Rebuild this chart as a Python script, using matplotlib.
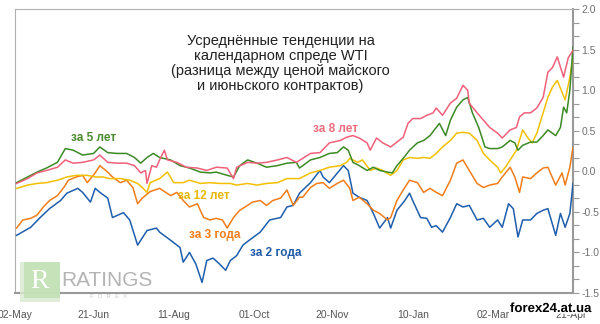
import matplotlib
matplotlib.use("Agg")
import matplotlib.pyplot as plt
import matplotlib.patheffects as pe
from matplotlib.patches import Rectangle
from matplotlib.ticker import MultipleLocator, FixedLocator, FuncFormatter

plt.rcParams['axes.unicode_minus'] = False
plt.rcParams['font.family'] = ['Liberation Sans', 'DejaVu Sans']

# ---- axis ticks (days since 02-May) ----
tick_days = [0, 50, 101, 152, 202, 253, 304, 354]
tick_labels = ['02-May', '21-Jun', '11-Aug', '01-Oct', '20-Nov', '10-Jan', '02-Mar', '21-Apr']

# ---- series: "за 2 года" (blue) ----
days_2y = [1, 10, 16, 22, 29, 33, 40, 43, 48, 51, 54, 59, 62, 69, 73, 78, 84, 90, 92, 99,
           105, 107, 111, 115, 119, 122, 126, 130, 134, 137, 141, 145, 149, 156, 162, 169, 173, 177, 181, 188,
           194, 196, 200, 209, 212, 215, 219, 224, 228, 232, 237, 239, 243, 248, 251, 253, 258, 262, 265, 268,
           272, 277, 281, 285, 289, 294, 298, 302, 307, 310, 314, 317, 320, 323, 328, 332, 336, 339, 344, 347,
           350, 353, 355]
vals_2y = [-0.79, -0.69, -0.57, -0.46, -0.36, -0.27, -0.21, -0.26, -0.38, -0.21, -0.26, -0.33, -0.57, -0.51, -0.60, -0.91, -0.73, -0.70, -0.75, -0.85,
           -0.94, -1.12, -1.00, -1.14, -1.37, -1.10, -1.07, -1.14, -1.22, -1.10, -1.04, -0.91, -0.85, -0.75, -0.60, -0.57, -0.44, -0.42, -0.27, -0.14,
           0.01, -0.07, -0.14, 0.07, 0.01, -0.27, -0.32, -0.36, -0.52, -0.70, -0.57, -0.70, -0.48, -0.36, -0.27, -0.36, -0.57, -0.58, -0.69, -0.67,
           -0.75, -0.57, -0.40, -0.44, -0.42, -0.60, -0.58, -0.69, -0.60, -0.69, -0.40, -0.46, -0.81, -0.60, -0.60, -0.52, -0.48, -0.46, -0.79, -0.52,
           -0.69, -0.52, -0.15]

# ---- series: "за 3 года" (orange) ----
days_3y = [1, 5, 10, 14, 18, 22, 27, 31, 34, 39, 43, 46, 51, 54, 59, 62, 67, 71, 75, 78,
           81, 86, 92, 99, 103, 107, 111, 116, 120, 124, 128, 132, 135, 139, 143, 148, 151, 156, 160, 164,
           169, 173, 177, 181, 183, 188, 192, 196, 200, 205, 209, 213, 215, 219, 224, 228, 232, 237, 239, 243,
           247, 251, 256, 260, 264, 268, 272, 277, 281, 285, 289, 294, 298, 302, 307, 310, 315, 318, 321, 323,
           328, 332, 336, 339, 344, 348, 350, 353, 355]
vals_3y = [-0.70, -0.60, -0.58, -0.54, -0.44, -0.36, -0.30, -0.20, -0.11, -0.07, -0.05, -0.14, -0.02, 0.07, -0.01, -0.07, -0.14, -0.11, -0.20, -0.40,
           -0.33, -0.25, -0.21, -0.30, -0.26, -0.36, -0.44, -0.40, -0.57, -0.60, -0.58, -0.60, -0.70, -0.57, -0.48, -0.42, -0.38, -0.36, -0.42, -0.36,
           -0.33, -0.23, -0.42, -0.32, -0.32, -0.20, -0.15, -0.14, -0.21, -0.15, -0.11, -0.21, -0.36, -0.32, -0.40, -0.48, -0.52, -0.60, -0.57, -0.36,
           -0.23, -0.11, -0.14, -0.26, -0.21, -0.26, -0.30, -0.11, 0.10, 0.14, 0.01, -0.15, -0.20, -0.17, -0.15, -0.07, 0.05, -0.07, -0.26, -0.07,
           -0.09, -0.02, 0.04, 0.05, -0.17, -0.02, -0.17, 0.05, 0.30]

# ---- series: "за 12 лет" (yellow) ----
days_12y = [1, 8, 14, 20, 27, 33, 39, 46, 51, 56, 60, 67, 73, 78, 81, 84, 86, 92, 97, 101,
            107, 111, 118, 124, 130, 137, 141, 148, 154, 160, 167, 173, 181, 188, 194, 200, 207, 211, 213, 218,
            221, 226, 230, 234, 239, 243, 247, 251, 256, 260, 264, 268, 272, 277, 281, 285, 289, 294, 298, 302,
            307, 309, 312, 315, 319, 323, 326, 329, 332, 336, 339, 342, 345, 350, 353, 355]
vals_12y = [-0.21, -0.17, -0.15, -0.14, -0.11, -0.07, -0.05, -0.05, -0.07, -0.07, -0.09, -0.09, -0.11, -0.15, -0.20, -0.26, -0.14, -0.09, -0.01, -0.14,
            -0.14, -0.11, -0.15, -0.14, -0.15, -0.15, -0.17, -0.15, -0.17, -0.15, -0.14, -0.09, -0.09, -0.02, 0.01, 0.05, 0.07, 0.11, 0.16, 0.11,
            0.14, 0.01, 0.04, 0.01, -0.05, 0.01, 0.14, 0.17, 0.16, 0.17, 0.16, 0.22, 0.30, 0.38, 0.47, 0.48, 0.47, 0.38, 0.22, 0.14,
            0.05, -0.02, 0.05, 0.14, 0.26, 0.51, 0.42, 0.35, 0.47, 0.72, 0.91, 1.04, 1.12, 0.88, 1.16, 1.41]

# ---- series: "за 5 лет" (green) ----
days_5y = [1, 8, 14, 20, 27, 32, 37, 43, 50, 54, 59, 65, 71, 76, 80, 84, 88, 92, 99, 105,
           111, 118, 124, 128, 135, 139, 143, 148, 154, 160, 167, 173, 179, 181, 188, 194, 200, 205, 209, 212,
           215, 219, 224, 228, 232, 237, 240, 243, 247, 251, 256, 260, 264, 268, 270, 274, 277, 281, 285, 288,
           291, 295, 299, 302, 307, 310, 315, 318, 320, 323, 328, 332, 336, 339, 344, 347, 349, 351, 353, 355]
vals_5y = [-0.14, -0.07, -0.01, 0.04, 0.11, 0.28, 0.26, 0.20, 0.22, 0.30, 0.23, 0.22, 0.22, 0.17, 0.10, 0.17, 0.22, 0.17, 0.14, 0.07,
           0.04, -0.01, -0.02, -0.01, -0.05, -0.07, 0.07, 0.14, 0.10, 0.05, 0.07, 0.10, 0.11, 0.04, 0.14, 0.17, 0.22, 0.23, 0.30, 0.26,
           0.11, 0.07, 0.01, 0.05, 0.01, -0.01, -0.02, 0.07, 0.16, 0.26, 0.35, 0.38, 0.44, 0.54, 0.59, 0.44, 0.63, 0.79, 0.88, 0.91,
           0.72, 0.54, 0.30, 0.28, 0.28, 0.30, 0.38, 0.35, 0.26, 0.32, 0.36, 0.36, 0.44, 0.51, 0.44, 0.54, 0.79, 0.72, 1.00, 1.53]

# ---- series: "за 8 лет" (pink) ----
days_8y = [1, 8, 14, 20, 27, 32, 37, 43, 50, 54, 59, 65, 71, 76, 80, 83, 84, 87, 90, 92,
           95, 97, 103, 109, 116, 122, 128, 135, 139, 141, 148, 154, 160, 167, 173, 179, 188, 194, 200, 207,
           211, 215, 219, 224, 226, 230, 234, 239, 243, 247, 250, 253, 258, 262, 266, 268, 272, 277, 281, 285,
           288, 289, 294, 298, 302, 307, 310, 315, 319, 321, 324, 328, 332, 336, 339, 342, 345, 349, 352, 355]
vals_8y = [-0.15, -0.09, -0.02, 0.01, 0.05, 0.14, 0.10, 0.11, 0.14, 0.20, 0.11, 0.10, 0.10, 0.07, -0.02, 0.01, -0.15, 0.07, 0.05, 0.14,
           0.26, 0.14, 0.11, 0.05, 0.04, 0.01, 0.05, 0.04, -0.09, 0.05, 0.11, 0.10, 0.11, 0.14, 0.17, 0.11, 0.22, 0.23, 0.35, 0.38,
           0.42, 0.44, 0.41, 0.35, 0.26, 0.41, 0.35, 0.30, 0.36, 0.42, 0.59, 0.65, 0.65, 0.69, 0.72, 0.78, 0.69, 0.84, 0.90, 1.06,
           1.00, 0.84, 0.72, 0.63, 0.54, 0.47, 0.41, 0.51, 0.54, 0.67, 0.72, 0.72, 0.78, 0.91, 1.22, 1.28, 1.41, 1.16, 1.40, 1.49]

series = [
    (days_2y, vals_2y, '#1f5ead', 'за 2 года', (166, -1.01)),
    (days_3y, vals_3y, '#f07d1a', 'за 3 года', (127, -0.79)),
    (days_12y, vals_12y, '#f2c000', 'за 12 лет', (120, -0.30)),
    (days_5y, vals_5y, '#3c8a26', 'за 5 лет', (50, 0.41)),
    (days_8y, vals_8y, '#f0607a', 'за 8 лет', (204, 0.52)),
]
label_colors = ['#1f5aa6', '#f07d1a', '#e8b800', '#4a8a2e', '#ec6f80']

title = "Усреднённые тенденции на\nкалендарном спреде WTI\n(разница между ценой майского\nи июньского контрактов)"

fig = plt.figure(figsize=(6.0, 3.24), dpi=100)
fig.patch.set_facecolor('white')
ax = fig.add_axes([15 / 600, 31 / 324, 558 / 600, 284 / 324])
ax.set_facecolor('white')

for (d, v, c, lab, pos), lc in zip(series, label_colors):
    ax.plot(d, v, color=c, lw=1.1, solid_joinstyle='round', zorder=3)
    ax.text(pos[0], pos[1], lab, color=lc, fontsize=8.5, fontweight='bold',
            ha='center', va='center', zorder=4)

ax.set_xlim(0, 355)
ax.set_ylim(-1.5, 2.0)

# spines
for s in ['left', 'top']:
    ax.spines[s].set_color('#b0b0b0')
    ax.spines[s].set_linewidth(0.8)
for s in ['bottom', 'right']:
    ax.spines[s].set_color('#999999')
    ax.spines[s].set_linewidth(1.5)

# y axis on right
ax.yaxis.tick_right()
ax.yaxis.set_major_locator(MultipleLocator(0.5))
ax.yaxis.set_minor_locator(MultipleLocator(0.5 / 3))
ax.yaxis.set_major_formatter(FuncFormatter(lambda v, p: f"{v:.1f}"))
ax.tick_params(axis='y', which='major', length=4, width=0.8, color='#999999',
               labelcolor='#707070', labelsize=7.5, pad=2)
ax.tick_params(axis='y', which='minor', length=4, width=0.8, color='#999999')

# x axis
ax.xaxis.set_major_locator(FixedLocator(tick_days))
ax.set_xticklabels(tick_labels)
ax.tick_params(axis='x', which='both', length=0, labelcolor='#555555', labelsize=7.5, pad=12)

# title inside plot
ax.text(169, 1.33, title, ha='center', va='center', fontsize=10.5, color='#222222',
        linespacing=1.1, zorder=5)

# watermark logo (bottom left)
fig.patches.append(Rectangle((20 / 600, 1 - 302 / 324), 40 / 600, 40 / 324,
                             transform=fig.transFigure, facecolor='#d9ead0',
                             edgecolor='none', alpha=0.8, zorder=1))
fig.patches.append(Rectangle((24 / 600, 1 - 298 / 324), 36 / 600, 36 / 324,
                             transform=fig.transFigure, facecolor='#bfe0b0',
                             edgecolor='none', alpha=0.8, zorder=1))
fig.text(40 / 600, 1 - 281 / 324, 'R', color='white', fontsize=20, ha='center',
         va='center', fontfamily='Liberation Serif', zorder=2)
fig.text(107 / 600, 1 - 281 / 324, 'RATINGS', color='#b4b4b4', fontsize=15,
         ha='center', va='center', zorder=2)
fig.text(108 / 600, 1 - 297 / 324, 'F   O   R   E   X', color='#c8c8c8', fontsize=4,
         ha='center', va='center', zorder=2)

# watermark site (bottom right)
fig.text(551 / 600, 1 - 309 / 324, 'forex24.at.ua', color='black', fontsize=9.5,
         fontweight='bold', ha='center', va='center', zorder=10,
         path_effects=[pe.withStroke(linewidth=2.5, foreground='white')])

fig.savefig('out.png', dpi=100, facecolor='white')
